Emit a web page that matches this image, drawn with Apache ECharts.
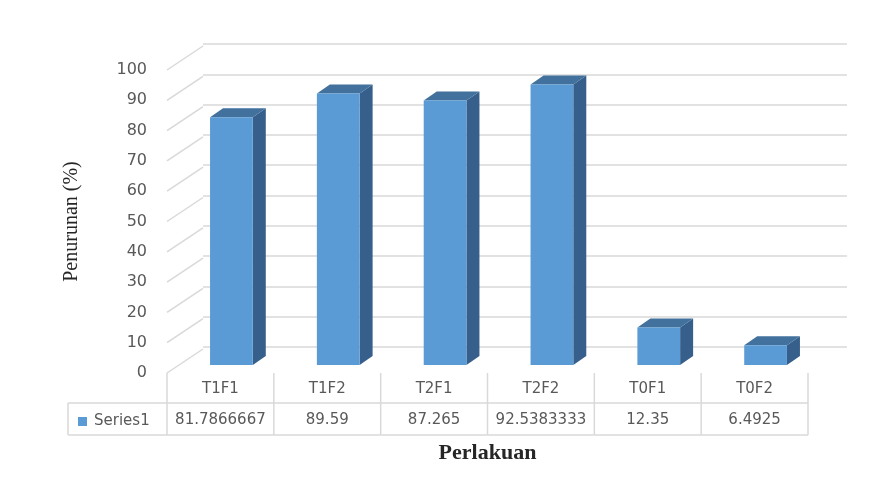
<!DOCTYPE html>
<html>
<head>
<meta charset="utf-8">
<script src="https://cdn.jsdelivr.net/npm/echarts@6/dist/echarts.min.js"></script>
<style>html,body{margin:0;padding:0;background:#fff}#c{width:880px;height:489px}</style>
</head>
<body>
<div id="c"></div>
<script>
const categories = ['T1F1', 'T1F2', 'T2F1', 'T2F2', 'T0F1', 'T0F2'];
const values = [81.7866667, 89.59, 87.265, 92.5383333, 12.35, 6.4925];
const valueLabels = ['81.7866667', '89.59', '87.265', '92.5383333', '12.35', '6.4925'];
const yTicks = [0, 10, 20, 30, 40, 50, 60, 70, 80, 90, 100];
const seriesName = 'Series1';

const FRONT = '#5B9BD5', SIDE = '#365F8B', TOP = '#41719C';
const GRID = '#d9d9d9';
const TXT = '#595959';
const FONT = '"DejaVu Sans", "Liberation Sans", Arial, sans-serif';
const SERIF = '"Liberation Serif", "Times New Roman", serif';

const chart = echarts.init(document.getElementById('c'));

function barItem(params, api) {
  const i = api.value(0), v = api.value(1);
  const base = api.coord([i, 0]);
  const top = api.coord([i, v]);
  const band = api.size([1, 0])[0];
  const bw = band * 0.4;
  const ox = 11, oy = -8, dx = 13, dy = -9;
  const xl = base[0] - bw / 2 + ox, xr = xl + bw;
  const yt = top[1] + oy, yb = base[1] + oy;
  return {
    type: 'group',
    children: [
      { type: 'polygon', shape: { points: [[xr, yt], [xr + dx, yt + dy], [xr + dx, yb + dy], [xr, yb]] }, style: { fill: SIDE } },
      { type: 'polygon', shape: { points: [[xl, yt], [xl + dx, yt + dy], [xr + dx, yt + dy], [xr, yt]] }, style: { fill: TOP } },
      { type: 'rect', shape: { x: xl, y: yt, width: bw, height: yb - yt }, style: { fill: FRONT } }
    ]
  };
}

function sideWallItem(params, api) {
  const v = api.value(0);
  const p = api.coord([0, v]);
  const band = api.size([1, 0])[0];
  const x0 = p[0] - band / 2;
  return {
    type: 'line',
    shape: { x1: x0, y1: p[1], x2: x0 + 36, y2: p[1] - 24 },
    style: { stroke: GRID, lineWidth: 1.5 }
  };
}

function tableItem(params, api) {
  const i = api.value(0);
  const p = api.coord([i, 0]);
  const band = api.size([1, 0])[0];
  const x0 = p[0] - band / 2, x1 = p[0] + band / 2;
  const y0 = p[1], y1 = p[1] + 30, y2 = p[1] + 62;
  const st = { stroke: GRID, lineWidth: 1.5 };
  const children = [
    { type: 'line', shape: { x1: x1, y1: y0, x2: x1, y2: y2 }, style: st },
    { type: 'line', shape: { x1: x0, y1: y1, x2: x1, y2: y1 }, style: st },
    { type: 'line', shape: { x1: x0, y1: y2, x2: x1, y2: y2 }, style: st },
    { type: 'text', style: { x: p[0], y: (y0 + y1) / 2 + 1, text: categories[i], fill: TXT, font: '15px ' + FONT, align: 'center', verticalAlign: 'middle' } },
    { type: 'text', style: { x: p[0], y: (y1 + y2) / 2 + 1, text: valueLabels[i], fill: TXT, font: '15px ' + FONT, align: 'center', verticalAlign: 'middle' } }
  ];
  if (i === 0) {
    const lx = x0 - 99;
    children.push(
      { type: 'line', shape: { x1: x0, y1: y0, x2: x0, y2: y2 }, style: st },
      { type: 'line', shape: { x1: lx, y1: y1, x2: x0, y2: y1 }, style: st },
      { type: 'line', shape: { x1: lx, y1: y2, x2: x0, y2: y2 }, style: st },
      { type: 'line', shape: { x1: lx, y1: y1, x2: lx, y2: y2 }, style: st }
    );
  }
  return { type: 'group', children: children };
}

chart.setOption({
  animation: false,
  backgroundColor: '#fff',
  grid: [
    { left: 167, right: 72, top: 70, bottom: 116 },
    { left: 203, right: 33, top: 44, bottom: 142 }
  ],
  xAxis: [
    { type: 'category', gridIndex: 0, data: categories, axisLine: { show: false }, axisTick: { show: false }, axisLabel: { show: false },
      name: 'Perlakuan', nameLocation: 'middle', nameGap: 69,
      nameTextStyle: { fontFamily: SERIF, fontSize: 22, color: '#262626', fontWeight: 'bold' } },
    { type: 'category', gridIndex: 1, data: categories, show: false }
  ],
  yAxis: [
    { type: 'value', gridIndex: 0, min: 0, max: 100, interval: 10,
      axisLine: { show: false }, axisTick: { show: false }, splitLine: { show: false },
      axisLabel: { color: TXT, fontSize: 16, fontFamily: FONT, margin: 20 },
      name: 'Penurunan (%)', nameLocation: 'middle', nameGap: 85, nameRotate: 90,
      nameTextStyle: { fontFamily: SERIF, fontSize: 20, color: '#262626' } },
    { type: 'value', gridIndex: 1, min: 0, max: 100, interval: 10,
      axisLine: { show: false }, axisTick: { show: false }, axisLabel: { show: false },
      splitLine: { show: true, lineStyle: { color: GRID, width: 1.5 } } }
  ],
  legend: {
    data: [{ name: seriesName, icon: 'rect' }],
    left: 73, top: 409, itemWidth: 9, itemHeight: 9, itemGap: 4,
    selectedMode: false,
    textStyle: { color: TXT, fontSize: 15, fontFamily: FONT, padding: [0, 0, 0, 2] }
  },
  series: [
    { type: 'custom', name: 'sidewall', xAxisIndex: 0, yAxisIndex: 0, clip: false, silent: true,
      data: yTicks.map(t => [t]), encode: { y: 0 }, renderItem: sideWallItem, z: 1 },
    { type: 'custom', name: seriesName, xAxisIndex: 0, yAxisIndex: 0, clip: false,
      itemStyle: { color: FRONT },
      data: values.map((v, i) => [i, v]), encode: { x: 0, y: 1 }, renderItem: barItem, z: 3 },
    { type: 'custom', name: 'table', xAxisIndex: 0, yAxisIndex: 0, clip: false, silent: true,
      data: values.map((v, i) => [i, v]), encode: { x: 0, y: 1 }, renderItem: tableItem, z: 2 }
  ]
});
</script>
</body>
</html>
